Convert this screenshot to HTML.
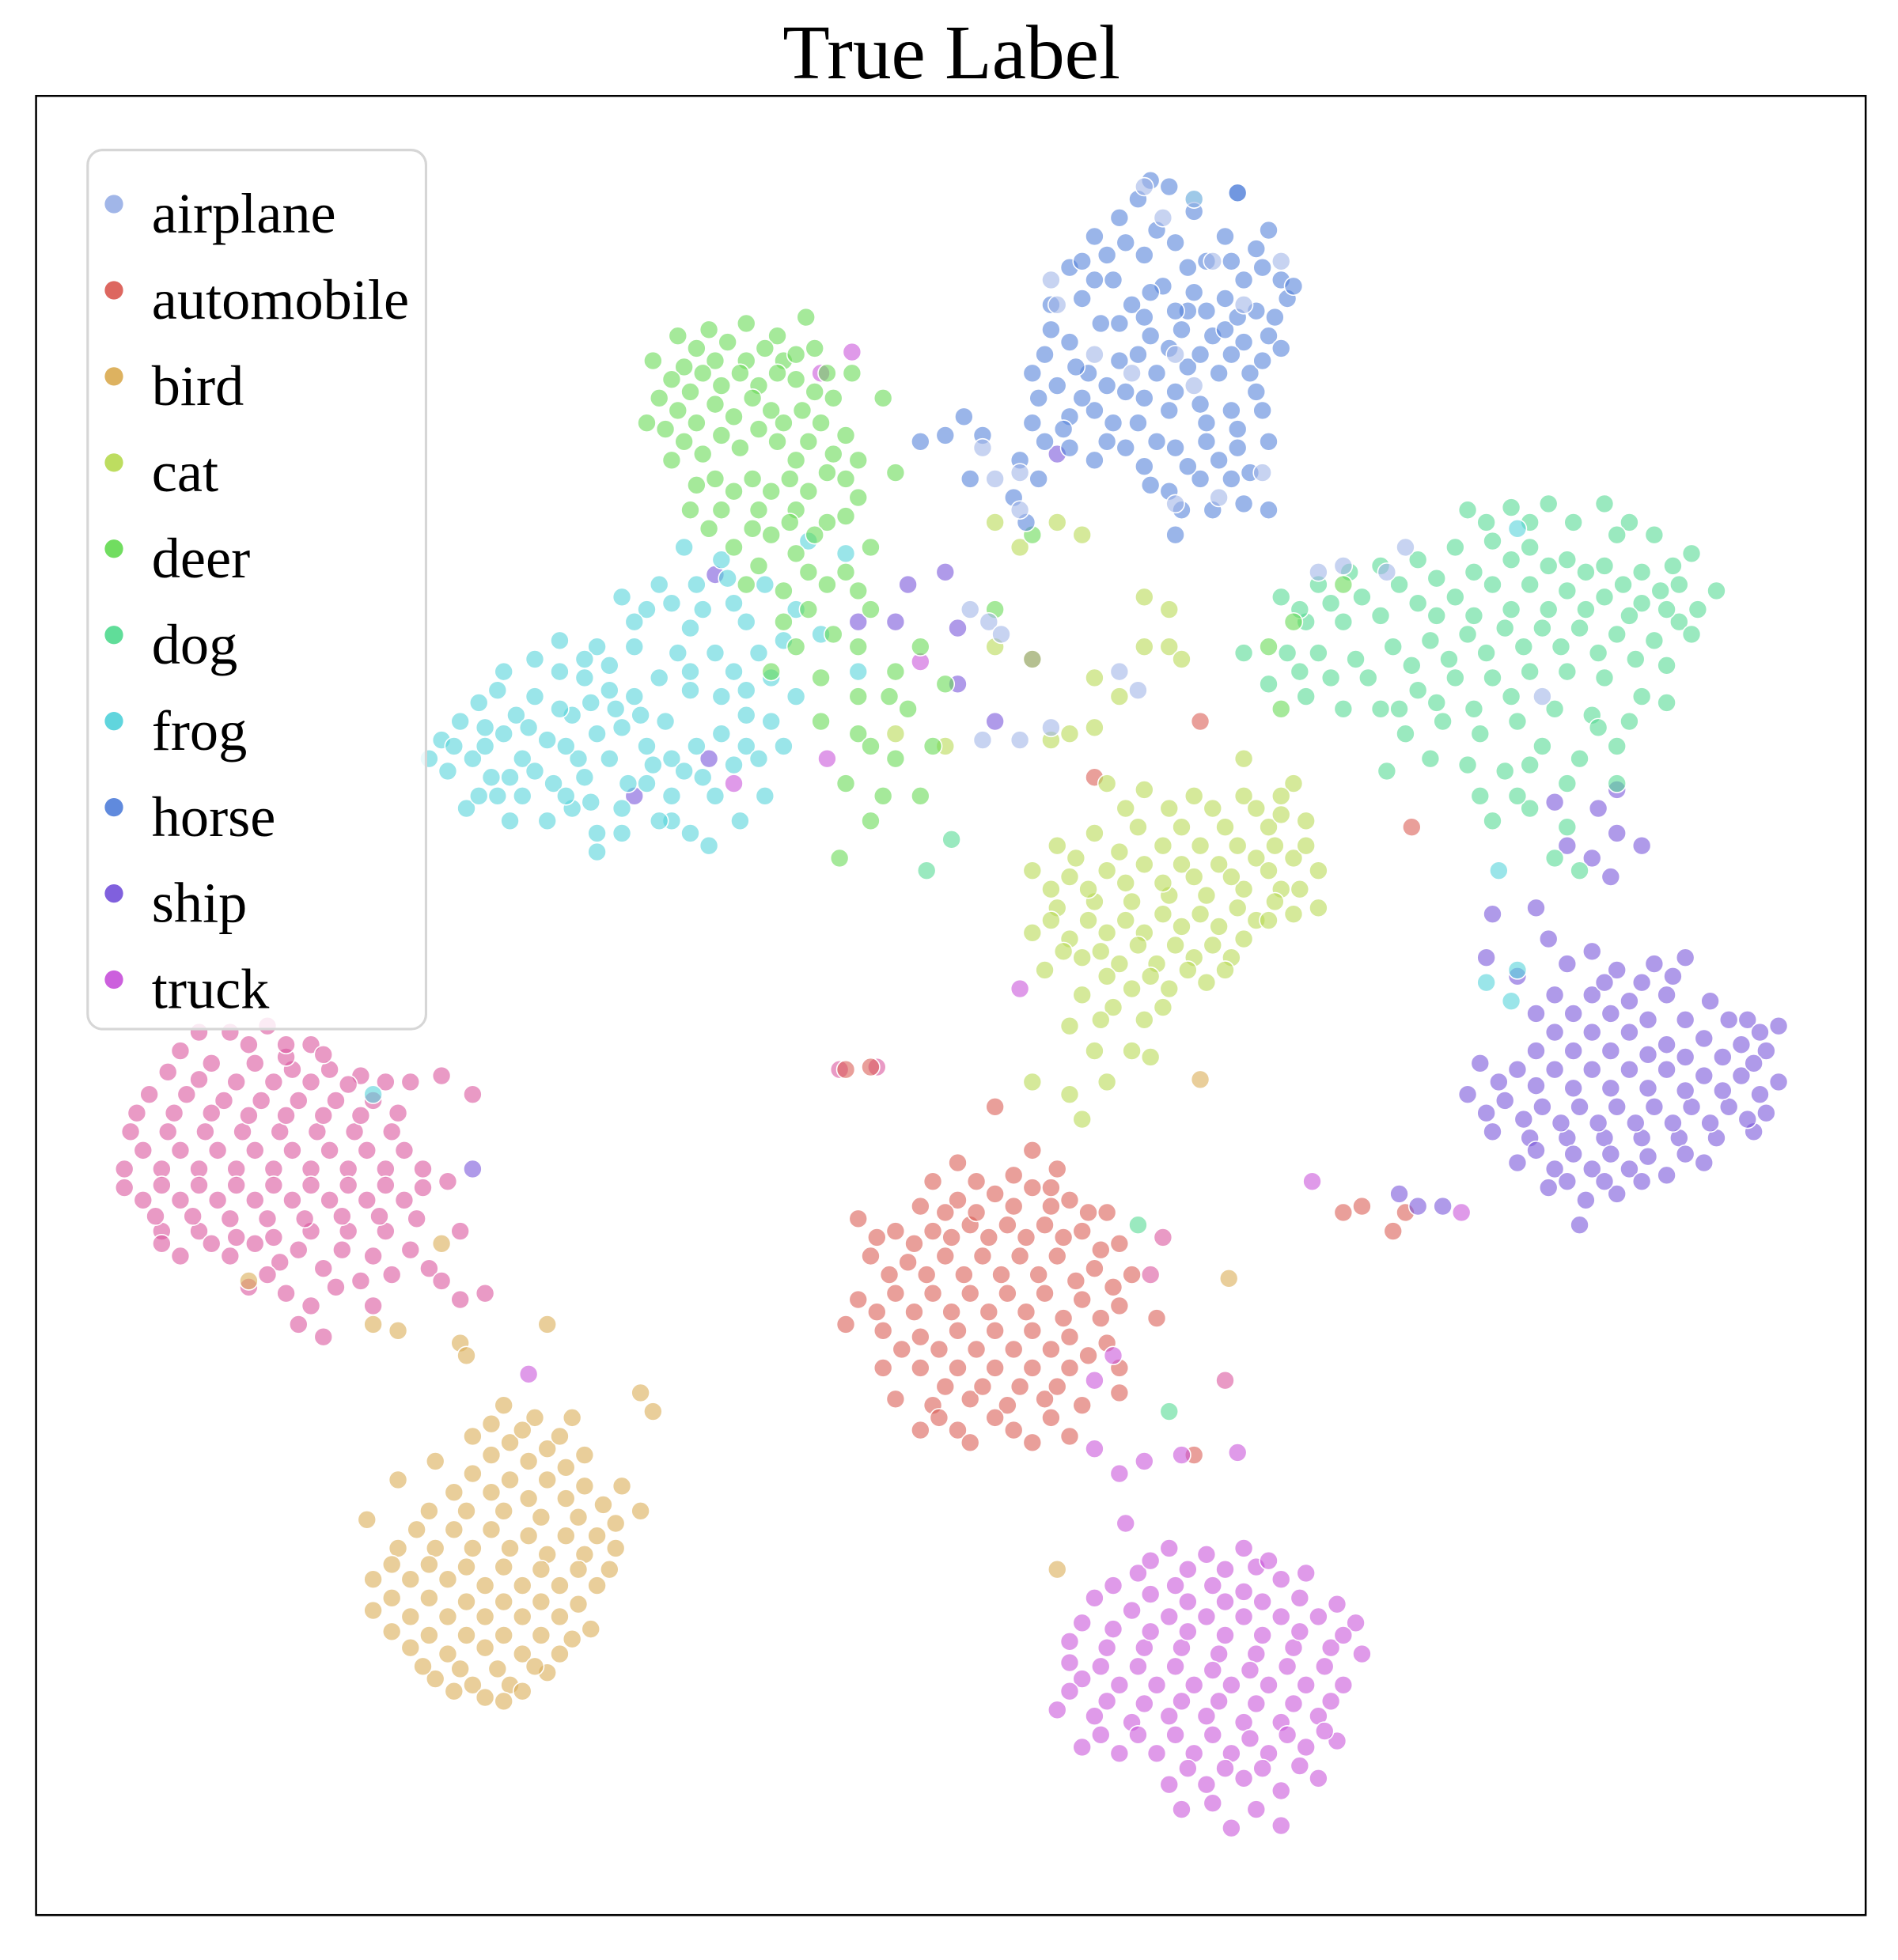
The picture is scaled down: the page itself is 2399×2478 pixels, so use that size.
<!DOCTYPE html>
<html><head><meta charset="utf-8"><style>html,body{margin:0;padding:0;background:#fff}svg{display:block}</style></head>
<body>
<svg id="chart" width="2399" height="2478" viewBox="0 0 1526 1576" xmlns="http://www.w3.org/2000/svg" font-family="'Liberation Serif', serif">
<rect width="1526" height="1576" fill="#fff"/>
<text x="765" y="63" font-size="62" text-anchor="middle">True Label</text>
<g id="points"></g>
<rect x="29" y="77" width="1471" height="1463" fill="none" stroke="#000" stroke-width="1.6"/>
<g id="legend">
<rect x="70.5" y="120.5" width="272" height="707" rx="12" fill="#fff" fill-opacity="0.8" stroke="#d6d6d6" stroke-width="2"/>
</g>
</svg>
<script>
const classes = ["airplane","automobile","bird","cat","deer","dog","frog","horse","ship","truck"];
const colors = ["#a1b6e8","#db5f57","#dbae57","#b9db57","#69db57","#57db94","#57d3db","#5784db","#7957db","#c957db"];
const pinkColor = "#db579e";
const airplaneX = [920,935,960,975,1030,1000,945,910,880,960,1015,980,945,850,845,820,820,790,800,795,780,805,1130,1115,1080,1240,900,915,845,820,790,1060];
const airplaneY = [150,175,160,210,210,245,285,300,285,310,380,400,405,245,225,380,410,360,385,500,490,510,440,460,455,560,540,555,585,595,595,460];
const horsePts = [[925,145],[915,160],[940,150],[900,175],[960,170],[985,190],[1010,200],[1020,185],[995,155],[880,190],[860,215],[845,245],[870,240],[895,225],[920,205],[945,195],[970,210],[1000,225],[1030,225],[1035,240],[1010,250],[985,240],[960,235],[935,230],[910,245],[885,260],[860,275],[840,285],[850,310],[875,300],[900,290],[925,270],[950,265],[975,270],[1000,275],[1020,270],[1030,280],[1005,300],[980,300],[955,295],[930,300],[905,315],[880,330],[860,335],[835,320],[830,340],[860,360],[890,355],[915,340],[940,330],[965,325],[990,330],[1015,330],[1020,355],[995,360],[970,355],[945,360],[920,375],[940,395],[965,385],[990,385],[1000,405],[1020,410],[820,370],[835,385],[825,420],[815,400],[780,385],[760,350],[740,355],[775,335],[790,350],[945,430],[995,155],[925,235],[955,250],[985,265],[870,210],[890,205],
[905,195],[930,185],[955,215],[990,210],[1015,215],[880,225],[900,260],[920,255],[945,250],[970,250],[995,255],[1025,255],[865,295],[890,310],[915,285],[940,280],[965,285],[990,285],[1015,290],[845,265],[870,320],[895,340],[920,320],[945,315],[970,340],[995,345],[1010,315],[880,370],[905,360],[930,355],[955,375],[980,370],[1005,380],[925,390],[950,410],[975,410],[855,345],[840,355],[830,300],[1040,230]];
const deerPts = [[545,270],[570,265],[600,260],[625,270],[648,255],[655,280],[630,290],[600,290],[575,290],[550,295],[525,290],[530,320],[555,315],[580,310],[610,310],[640,305],[665,300],[685,300],[670,320],[645,330],[620,330],[590,335],[560,340],[535,345],[520,340],[540,370],[565,365],[595,360],[625,355],[650,355],[680,350],[690,370],[665,380],[635,385],[605,385],[575,385],[555,410],[580,410],[610,410],[640,410],[665,420],[690,400],[700,440],[655,430],[620,430],[590,440],[710,320],[720,380],[600,470],[630,475],[650,460],[680,460],[700,490],[670,510],[640,520],[620,540],[660,545],[690,560],[720,540],[740,520],[750,600],[720,610],[690,590],[680,630],[700,660],[740,640],[675,690],[760,550],[800,490],[830,430],[1020,520],[1030,570],[1040,500],[1080,470],
[560,280],[585,275],[615,280],[640,285],[540,305],[565,300],[595,300],[625,300],[655,315],[545,330],[575,325],[605,320],[630,340],[660,340],[550,355],[580,350],[610,345],[640,370],[670,365],[560,390],[590,395],[620,395],[650,395],[680,385],[570,425],[605,425],[635,420],[680,415],[610,455],[640,445],[665,470],[690,475],[650,490],[630,500],[690,520],[715,560],[700,600],[660,580],[730,570],[710,640]];
const frogPts = [[355,595],[370,580],[385,565],[400,555],[415,575],[380,610],[360,620],[395,625],[420,610],[440,595],[430,560],[450,540],[470,545],[490,555],[460,575],[465,610],[445,630],[420,640],[410,660],[440,660],[460,650],[480,670],[500,650],[520,630],[540,610],[560,600],[580,590],[600,600],[620,580],[640,560],[520,600],[500,585],[490,610],[470,625],[510,560],[530,545],[555,540],[575,525],[590,540],[610,525],[630,515],[555,505],[520,490],[500,480],[530,470],[560,470],[585,465],[615,470],[580,450],[550,440],[600,500],[510,520],[480,520],[450,515],[430,530],[405,540],[390,585],[540,660],[570,680],[595,660],[615,640],[540,640],[575,640],[480,685],[375,650],[650,435],[680,445],[690,540],[660,510],[345,610],[1220,425],[1205,700],[1195,790],[1215,805],[1220,780],[960,160],[300,880],
[365,600],[390,600],[405,590],[425,585],[450,570],[475,565],[495,570],[480,590],[455,600],[430,620],[410,625],[385,640],[400,640],[455,640],[475,645],[505,630],[525,615],[550,620],[565,625],[590,615],[610,610],[630,600],[600,575],[580,560],[555,555],[535,580],[515,575],[490,535],[470,530],[545,525],[620,545],[600,555],[565,490],[590,485],[540,485],[510,500],[640,490],[530,660],[555,670],[500,670]];
const dogPts = [[1180,410],[1215,408],[1245,405],[1290,405],[1310,420],[1330,430],[1360,445],[1380,475],[1350,470],[1320,460],[1290,455],[1260,450],[1230,440],[1200,435],[1170,440],[1140,450],[1110,455],[1085,460],[1060,470],[1030,480],[1050,500],[1080,500],[1110,495],[1140,485],[1170,480],[1200,470],[1230,470],[1260,475],[1290,480],[1320,485],[1350,500],[1360,510],[1330,515],[1300,510],[1270,505],[1240,505],[1210,505],[1180,510],[1150,515],[1120,520],[1090,530],[1060,525],[1035,525],[1000,525],[1020,550],[1050,560],[1080,570],[1110,570],[1140,555],[1170,545],[1200,545],[1230,540],[1260,540],[1290,545],[1320,560],[1340,535],[1250,570],[1220,580],[1190,590],[1160,580],[1130,590],[1115,620],[1150,610],[1180,615],[1210,620],[1240,600],[1270,610],[1300,630],[1230,650],[1260,665],[1200,660],[1250,690],[1300,600],[1340,565],[1190,640],[1270,700],[745,700],[765,675],[915,985],[940,1135],
[1195,420],[1230,420],[1265,420],[1300,430],[1345,455],[1215,450],[1245,455],[1275,460],[1305,470],[1335,475],[1365,490],[1185,460],[1155,465],[1125,470],[1095,480],[1070,485],[1045,490],[1155,495],[1185,495],[1215,490],[1245,490],[1275,490],[1310,495],[1340,490],[1195,525],[1225,520],[1255,520],[1285,525],[1315,530],[1165,530],[1135,535],[1100,545],[1070,545],[1045,540],[1125,570],[1155,565],[1185,570],[1215,560],[1280,575],[1310,580],[1230,615],[1260,630],[1220,640],[1285,585]];
const catPts = [[890,630],[920,635],[960,640],[1000,640],[1040,630],[1050,660],[1020,665],[985,665],[950,665],[915,665],[880,670],[850,680],[830,700],[860,705],[890,700],[920,695],[950,695],[980,695],[1010,690],[1040,690],[1060,700],[1030,715],[1000,715],[970,720],[940,720],[910,725],[880,725],[850,730],[830,750],[860,755],[890,750],[920,750],[950,745],[980,745],[1010,740],[1040,735],[990,770],[960,770],[930,775],[900,775],[870,770],[840,780],[870,800],[910,795],[940,795],[970,790],[920,820],[860,825],[880,845],[910,845],[925,850],[830,870],[860,880],[870,900],[890,870],[1060,730],[1020,740],[800,420],[820,440],[850,420],[870,430],[880,545],[900,560],[920,520],[940,520],[950,530],[920,480],[940,490],[830,530],[800,520],[860,590],[880,585],[845,595],[760,600],[720,590],[1000,610],[1030,640],
[905,650],[940,650],[975,650],[1010,650],[1030,655],[865,690],[900,685],[935,680],[965,680],[995,680],[1025,680],[1050,680],[845,715],[875,715],[905,710],[935,710],[960,705],[990,705],[1020,700],[1045,715],[845,740],[875,740],[905,740],[935,735],[965,735],[995,730],[1025,725],[855,765],[885,765],[915,760],[945,760],[975,760],[1000,755],[890,785],[925,785],[955,780],[985,780],[895,810],[935,810],[885,820]];
const autoPts = [[800,890],[830,925],[850,940],[770,935],[750,950],[740,970],[770,965],[800,960],[830,955],[860,965],[890,975],[690,980],[720,990],[750,990],[780,985],[810,985],[840,985],[870,990],[900,1000],[700,1010],[730,1015],[760,1010],[790,1010],[820,1010],[850,1010],[880,1020],[910,1025],[690,1045],[720,1040],[750,1040],[780,1040],[810,1040],[840,1040],[870,1045],[900,1050],[930,1060],[680,1065],[710,1070],[740,1075],[770,1070],[800,1070],[830,1070],[860,1075],[890,1080],[710,1100],[740,1100],[770,1100],[800,1100],[830,1100],[860,1100],[900,1100],[720,1125],[750,1130],[780,1125],[810,1130],[840,1125],[870,1130],[740,1150],[770,1150],[800,1140],[830,1160],[860,1155],[780,1160],[680,860],[700,858],[900,1120],[1080,975],[1095,970],[1120,990],[1130,975],[965,580],[1135,665],[960,1170],[880,625],
[785,950],[815,945],[845,955],[760,975],[785,975],[815,970],[845,970],[875,975],[705,995],[735,1000],[765,995],[795,995],[825,995],[855,995],[885,1005],[715,1025],[745,1025],[775,1025],[805,1025],[835,1025],[865,1030],[895,1035],[705,1055],[735,1055],[765,1055],[795,1055],[825,1055],[855,1060],[885,1060],[725,1085],[755,1085],[785,1085],[815,1085],[845,1085],[875,1090],[760,1115],[790,1115],[820,1115],[850,1115],[755,1140],[815,1150],[845,1140]];
const birdPts = [[405,1130],[430,1140],[460,1140],[380,1155],[410,1160],[440,1165],[470,1170],[350,1175],[380,1185],[410,1190],[440,1190],[470,1195],[500,1195],[320,1190],[345,1215],[375,1215],[405,1215],[435,1220],[465,1220],[495,1225],[515,1215],[295,1222],[320,1245],[350,1245],[380,1245],[410,1245],[440,1250],[470,1250],[495,1245],[300,1270],[330,1270],[360,1270],[390,1275],[420,1275],[450,1275],[480,1275],[300,1295],[330,1300],[360,1300],[390,1300],[420,1300],[450,1300],[475,1310],[330,1325],[360,1330],[390,1325],[420,1330],[450,1330],[350,1350],[380,1355],[410,1355],[440,1345],[390,1365],[420,1360],[525,1135],[515,1120],[370,1080],[375,1090],[320,1070],[300,1065],[850,1262],[200,1030],[355,1000],[440,1065],[965,868],[988,1028],
[395,1145],[420,1150],[450,1155],[395,1170],[425,1175],[455,1180],[365,1200],[395,1200],[425,1205],[455,1205],[485,1210],[335,1230],[365,1230],[395,1230],[425,1235],[455,1235],[480,1235],[315,1258],[345,1258],[375,1260],[405,1260],[435,1262],[465,1262],[490,1262],[315,1285],[345,1285],[375,1288],[405,1288],[435,1288],[465,1290],[315,1312],[345,1315],[375,1315],[405,1315],[435,1315],[460,1318],[340,1340],[370,1342],[400,1342],[430,1340],[365,1360],[405,1368]];
const truckPts = [[905,1225],[940,1245],[970,1250],[1000,1245],[1010,1260],[915,1265],[945,1275],[975,1275],[1000,1280],[1030,1270],[1050,1265],[880,1285],[910,1295],[940,1300],[970,1300],[1000,1300],[1030,1300],[1060,1300],[1090,1305],[860,1320],[890,1325],[920,1325],[950,1325],[980,1330],[1010,1330],[1040,1325],[1070,1325],[1095,1330],[870,1350],[900,1355],[930,1355],[960,1355],[990,1355],[1020,1355],[1050,1355],[1080,1355],[850,1375],[880,1380],[910,1385],[940,1380],[970,1380],[1000,1385],[1030,1385],[1060,1380],[870,1405],[900,1410],[930,1410],[960,1410],[990,1410],[1020,1410],[1050,1405],[1075,1400],[940,1435],[970,1435],[1000,1430],[1030,1440],[1060,1430],[990,1470],[1030,1468],[950,1455],[880,1165],[900,1185],[950,1170],[995,1168],[880,1110],[920,1175],[895,1090],[820,795],[860,1337],[1175,975],[1055,950],[425,1105],[740,532],[660,300],[685,283],[590,630],[665,610],
[925,1255],[955,1262],[985,1262],[1020,1255],[895,1275],[925,1282],[955,1288],[985,1288],[1015,1288],[1045,1285],[1075,1290],[870,1305],[895,1310],[925,1312],[955,1312],[985,1315],[1015,1315],[1045,1312],[1080,1315],[885,1340],[915,1340],[945,1340],[975,1343],[1005,1343],[1035,1340],[1065,1340],[860,1360],[890,1368],[920,1370],[950,1368],[980,1368],[1010,1370],[1040,1370],[1070,1368],[885,1395],[915,1395],[945,1395],[975,1395],[1005,1398],[1035,1395],[1065,1392],[955,1422],[985,1422],[1015,1422],[1045,1420],[975,1450],[1010,1455]];
const shipPts = [[1200,735],[1235,730],[1245,755],[1280,765],[1300,780],[1330,775],[1355,770],[1195,770],[1220,785],[1250,800],[1280,800],[1310,805],[1340,800],[1375,805],[1405,820],[1430,825],[1250,830],[1280,830],[1310,830],[1340,840],[1370,835],[1400,840],[1420,845],[1190,855],[1220,860],[1250,860],[1280,860],[1310,860],[1340,860],[1370,865],[1400,865],[1430,870],[1180,880],[1210,885],[1240,890],[1270,890],[1300,890],[1330,890],[1360,890],[1390,890],[1420,895],[1200,910],[1230,915],[1260,915],[1290,915],[1320,915],[1350,915],[1380,915],[1410,910],[1220,935],[1250,940],[1280,940],[1310,940],[1340,945],[1370,935],[1245,955],[1275,965],[1300,960],[1270,985],[1160,970],[1140,970],[1125,960],[1300,670],[1280,690],[1260,680],[1295,705],[1320,680],[1285,650],[1300,635],[1250,645],[770,550],[800,580],[830,530],[760,460],[730,470],[510,640],[570,610],[575,462],[690,500],[720,500],[380,940],[850,365],[770,505],
[1260,775],[1290,790],[1320,790],[1345,785],[1235,815],[1265,815],[1295,815],[1325,820],[1355,820],[1390,820],[1415,830],[1235,845],[1265,845],[1295,845],[1325,848],[1355,850],[1385,850],[1410,855],[1205,870],[1235,873],[1265,875],[1295,875],[1325,875],[1355,877],[1385,877],[1415,880],[1195,895],[1225,900],[1255,903],[1285,903],[1315,903],[1345,903],[1375,903],[1405,900],[1235,925],[1265,928],[1295,928],[1325,930],[1355,928],[1260,950],[1290,950],[1320,950]];
const pinkPts = [[185,830],[215,825],[250,840],[145,845],[170,855],[205,855],[235,860],[265,860],[290,865],[120,880],[150,880],[180,885],[210,885],[240,885],[270,885],[300,885],[330,870],[355,865],[105,910],[135,910],[165,910],[195,910],[225,910],[255,910],[285,910],[315,910],[100,940],[130,940],[160,940],[190,940],[220,940],[250,940],[280,940],[310,940],[340,940],[115,965],[145,965],[175,965],[205,965],[235,965],[265,965],[295,965],[325,965],[130,990],[160,990],[190,995],[220,995],[250,990],[280,990],[310,990],[145,1010],[185,1010],[225,1015],[260,1020],[300,1010],[330,1005],[200,1035],[230,1040],[270,1035],[300,1050],[240,1065],[260,1075],[370,1045],[390,1040],[345,1020],[355,1030],[360,950],[370,990],[380,880],[675,860],[705,858],[130,1000],[230,850],[935,995],[985,1110],[925,1025],
[160,830],[200,840],[230,840],[260,848],[135,862],[160,868],[190,870],[220,870],[250,870],[280,872],[310,870],[110,895],[140,895],[170,895],[200,897],[230,897],[260,897],[290,897],[320,895],[115,925],[145,925],[175,925],[205,925],[235,925],[265,925],[295,925],[325,925],[100,955],[130,953],[160,953],[190,953],[220,953],[250,953],[280,953],[310,953],[340,955],[125,978],[155,978],[185,980],[215,980],[245,980],[275,978],[305,978],[335,980],[170,1000],[205,1000],[240,1005],[275,1005],[315,1025],[215,1025],[250,1050],[290,1030]];

const NS = "http://www.w3.org/2000/svg";
function xs(v){ return 0 + (v - 0) * 1; }
function ys(v){ return 0 + (v - 0) * 1; }
const g = document.getElementById('points');
function plot(pts, color, name){
  pts.forEach(p => {
    const c = document.createElementNS(NS,'circle');
    c.setAttribute('cx', xs(p[0])); c.setAttribute('cy', ys(p[1])); c.setAttribute('r', 7.3);
    c.setAttribute('fill', color); c.setAttribute('fill-opacity', 0.6);
    c.setAttribute('stroke', '#fff'); c.setAttribute('stroke-width', 1);
    
    
    g.appendChild(c);
  });
}
plot(pinkPts, pinkColor, 'point-pink');
plot(birdPts, colors[2], 'point-bird');
plot(autoPts, colors[1], 'point-automobile');
plot(truckPts, colors[9], 'point-truck');
plot(shipPts, colors[8], 'point-ship');
plot(dogPts, colors[5], 'point-dog');
plot(catPts, colors[3], 'point-cat');
plot(frogPts, colors[6], 'point-frog');
plot(deerPts, colors[4], 'point-deer');
plot(horsePts, colors[7], 'point-horse');
plot(airplaneX.map((x,i)=>[x, airplaneY[i]]), colors[0], 'point-airplane');

const lg = document.getElementById('legend');
classes.forEach((cl,i) => {
  const y = 164 + i*69.3;
  const c = document.createElementNS(NS,'circle');
  c.setAttribute('cx', 91.6); c.setAttribute('cy', y); c.setAttribute('r', 7.4);
  c.setAttribute('fill', colors[i]); c.setAttribute('fill-opacity', i===0 ? 1 : 0.95);
  
  
  lg.appendChild(c);
  const t = document.createElementNS(NS,'text');
  t.setAttribute('x', 122); t.setAttribute('y', y + 23); t.setAttribute('font-size', 46);
  t.textContent = cl;
  
  
  lg.appendChild(t);
});
</script>
</body></html>
